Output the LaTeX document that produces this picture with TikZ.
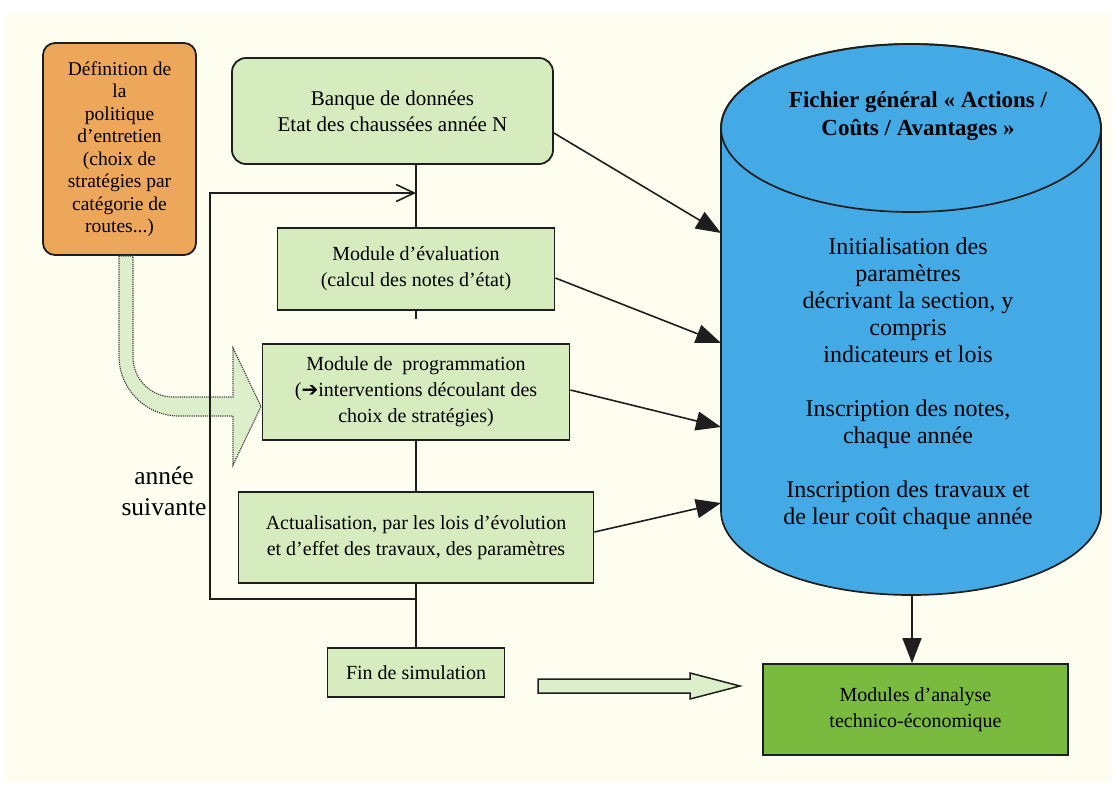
\documentclass[tikz,border=0pt]{standalone}
\usepackage{fontspec}
\setmainfont{Liberation Serif}
\newfontfamily\symfont{DejaVu Sans}
\usetikzlibrary{arrows.meta}
\definecolor{fond}{RGB}{254,254,240}
\definecolor{vertclair}{RGB}{214,235,190}
\definecolor{vertfleche}{RGB}{221,239,202}
\definecolor{vertfonce}{RGB}{122,186,62}
\definecolor{orangebox}{RGB}{236,167,90}
\definecolor{bleufichier}{RGB}{68,170,230}
\definecolor{trait}{RGB}{30,30,30}
\begin{document}
\begin{tikzpicture}[x=1pt,y=-1pt,
    boite/.style={draw=trait, line width=1.8pt, fill=vertclair, align=center, inner sep=0pt, font=\fontsize{20}{26}\selectfont},
    lien/.style={draw=trait, line width=1.6pt},
    fleche/.style={lien, -{Triangle[length=25pt,width=19pt]}},
    grosse/.style={draw=black!75, line width=1.2pt, fill=vertfleche}]
  \fill[white] (0,0) rectangle (1115,785);
  \fill[fond] (6,14) rectangle (1112,782);
  \useasboundingbox (0,0) rectangle (1115,785);

  % fichier general
  \filldraw[fill=bleufichier, draw=trait, line width=1.7pt] (721,128) -- (721,511)
    arc[start angle=180, end angle=0, x radius=190, y radius=84] -- (1101,128)
    arc[start angle=0, end angle=-180, x radius=190, y radius=84] -- cycle;
  \draw[trait, line width=1.7pt] (911,128) ellipse[x radius=190, y radius=84];
  \node[align=center, font=\bfseries\fontsize{23}{28}\selectfont] (titre) at (918,116) {Fichier général « Actions /\\Coûts / Avantages »};
  \node[align=center, font=\fontsize{24}{27}\selectfont] (contenu) at (908,384) {Initialisation des\\paramètres\\décrivant la section, y\\compris\\indicateurs et lois\\[27pt]Inscription des notes,\\chaque année\\[27pt]Inscription des travaux et\\de leur coût chaque année};
  \coordinate (in1) at (721,233);
  \coordinate (in2) at (721,343);
  \coordinate (in3) at (721,427);
  \coordinate (in4) at (721,503);
  \coordinate (fbas) at (912,595);

  % boites
  \node[boite, fill=orangebox, rounded corners=12pt, minimum width=153pt, minimum height=212pt, font=\fontsize{19.5}{22.5}\selectfont] (def) at (119.5,149) {Définition de\\la\\politique\\d’entretien\\(choix de\\stratégies par\\catégorie de\\routes...)};
  \node[boite, rounded corners=14pt, minimum width=321pt, minimum height=106pt, font=\fontsize{21}{26}\selectfont] (banque) at (392.5,111) {Banque de données\\Etat des chaussées année N};
  \node[boite, minimum width=277pt, minimum height=82pt] (eval) at (416,269) {Module d’évaluation\\(calcul des notes d’état)};
  \node[boite, minimum width=307pt, minimum height=96pt] (prog) at (416,392) {Module de~ programmation\\({\symfont ➔}interventions découlant des\\choix de stratégies)};
  \node[boite, minimum width=355pt, minimum height=91pt] (actu) at (416,537.5) {Actualisation, par les lois d’évolution\\et d’effet des travaux, des paramètres};
  \node[boite, minimum width=177pt, minimum height=49pt] (fin) at (416,672.5) {Fin de simulation};
  \node[boite, fill=vertfonce, minimum width=305pt, minimum height=91pt] (analyse) at (915.5,709.5) {Modules d’analyse\\technico-économique};
  \node[align=center, font=\fontsize{25.5}{31}\selectfont] (suivante) at (164,491) {année\\suivante};

  % grosses fleches
  \filldraw[grosse, densely dotted] (119,256) -- (119,356) arc[start angle=180, end angle=90, radius=60]
    -- (233,416) -- (233,465) -- (261,406.5) -- (233,348) -- (233,397) -- (173,397)
    arc[start angle=90, end angle=180, radius=40] -- (133,256) -- cycle;
  \filldraw[grosse, draw=trait, line width=1.5pt] (538,679) -- (690,679) -- (690,673) -- (740,686)
    -- (690,699) -- (690,693) -- (538,693) -- cycle;

  % liens
  \draw[lien] (banque.south -| eval.north) -- (eval.north);
  \draw[lien] (eval.south) -- ++(0,8);
  \draw[lien] (prog.south) -- (actu.north);
  \draw[lien] (actu.south) -- (fin.north);
  \draw[lien, -{Straight Barb[length=18pt,width=17pt]}] (416,599) -- (210,599) -- (210,193) -- (416,193);
  \draw[fleche] ([yshift=-22pt]banque.east) -- (in1);
  \draw[fleche] ([yshift=-9pt]eval.east) -- (in2);
  \draw[fleche] ([yshift=2pt]prog.east) -- (in3);
  \draw[fleche] ([yshift=5.5pt]actu.east) -- (in4);
  \draw[fleche] (fbas) -- (fbas |- analyse.north);
\end{tikzpicture}
\end{document}
